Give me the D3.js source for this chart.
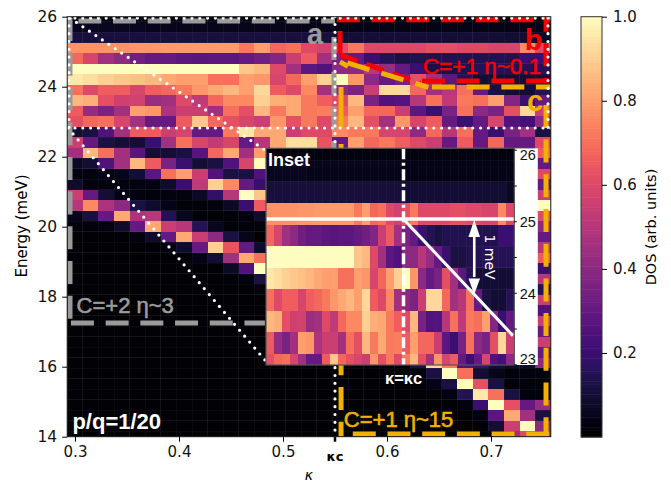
<!DOCTYPE html>
<html>
<head>
<meta charset="utf-8">
<script src="https://cdn.jsdelivr.net/npm/d3@7"></script>
<style>
  body { margin: 0; background: #fff; }
  text { font-family: "DejaVu Sans", sans-serif; }
</style>
</head>
<body>
<div id="chart"></div>
<script>
// kappa of each column centre
const kappas = [0.3, 0.315, 0.33, 0.345, 0.36, 0.375, 0.39, 0.405, 0.42, 0.435, 0.45, 0.465, 0.48, 0.495, 0.51, 0.525,
    0.54, 0.555, 0.57, 0.585, 0.6, 0.615, 0.63, 0.645, 0.66, 0.675, 0.69, 0.705, 0.72, 0.735, 0.75];

// energy of each row centre (meV)
const energies = [26, 25.7, 25.4, 25.1, 24.8, 24.5, 24.2, 23.9, 23.6, 23.3, 23, 22.7, 22.4, 22.1, 21.8, 21.5, 21.2, 20.9,
    20.6, 20.3, 20, 19.7, 19.4, 19.1, 18.8, 18.5, 18.2, 17.9, 17.6, 17.3, 17, 16.7, 16.4, 16.1, 15.8, 15.5, 15.2, 14.9, 14.6, 14.3, 14];

// DOS, one row per energy. The zeros sit behind the inset.
const dos = [
    [.03,.03,.03,.03,.03,.03,.03,.03,.03,.03,.03,.03,.03,.03,.03,.03,.03,.03,.03,.03,.03,.03,.03,.03,.03,.03,.03,.03,.03,.03,.03],
    [.06,.06,.06,.06,.06,.05,.05,.05,.05,.05,.05,.05,.05,.05,.05,.05,.05,.04,.04,.04,.04,.04,.04,.04,.04,.04,.04,.04,.04,.04,.04],
    [.11,.11,.11,.11,.11,.11,.11,.11,.11,.11,.11,.11,.11,.11,.11,.11,.11,.1,.1,.1,.1,.1,.1,.1,.1,.1,.1,.1,.09,.09,.07],
    [.77,.77,.77,.77,.78,.78,.79,.79,.79,.79,.79,.72,.8,.68,.7,.6,.57,.62,.72,.6,.6,.6,.6,.62,.62,.6,.6,.58,.58,.75,.6],
    [.68,.58,.45,.4,.33,.3,.3,.28,.27,.28,.28,.3,.33,.38,.55,.65,.45,.35,.3,.2,.15,.12,.14,.14,.14,.14,.14,.14,.14,.2,.2],
    [1,1,1,1,1,1,1,1,1,1,1,.88,.85,.6,.45,.28,.25,.4,.4,.5,.42,.3,.2,.12,.12,.14,.15,.15,.15,.15,.15],
    [.95,.93,.9,.88,.87,.85,.82,.8,.8,.7,.7,.8,.78,.58,.68,.8,.9,1,.78,.4,.3,.35,.62,.45,.28,.15,.1,.1,.1,.1,.1],
    [.7,.6,.66,.66,.58,.66,.68,.72,.78,.82,.85,.8,.92,.65,.6,.75,.45,.4,.36,.55,.92,.92,.68,.45,.5,.7,.3,.12,.1,.1,.15],
    [.85,.83,.62,.56,.57,.43,.45,.6,.52,.68,.75,.75,.9,.83,.82,.72,.66,.6,.85,.35,.25,.26,.5,.7,.52,.72,.7,.8,.38,.2,.3],
    [.65,.42,.35,.45,.8,.78,.48,.55,.55,.45,.7,.62,.85,.72,.82,.72,.73,.65,.8,.68,.68,.55,.28,.2,.35,.7,.4,.35,.62,.92,.55],
    [.62,.68,.7,.58,.45,.3,.3,.65,.88,.68,.62,.58,.55,.78,.62,.72,.6,.72,.85,.62,.45,.78,.58,.65,.3,.2,.3,.58,.25,.22,.4],
    [.1,.12,.25,.45,.65,.65,.55,.58,.3,.3,.72,.95,.82,.82,.55,.6,.6,.75,.72,.72,.58,.58,.4,.68,.5,.7,.3,.2,.35,.45,.12],
    [.55,.3,.12,.1,.1,.2,.45,.7,.58,.53,.58,.3,.5,.82,.93,.93,.63,.3,.8,.68,.72,.66,.6,.55,.3,.65,.3,.68,.3,.3,.6],
    [.45,.85,.7,.45,.27,.1,.1,.12,.27,.68,.82,.45,.8,0,0,0,0,0,0,0,0,0,0,0,0,0,0,0,0,0,.65],
    [.07,.1,.25,.45,.85,.65,.35,.2,.1,.12,.25,.58,1,0,0,0,0,0,0,0,0,0,0,0,0,0,0,0,0,0,.3],
    [.03,.03,.04,.05,.1,.28,.7,.8,.55,.25,.12,.12,.25,0,0,0,0,0,0,0,0,0,0,0,0,0,0,0,0,0,.6],
    [.08,.03,.03,.03,.03,.03,.08,.2,.52,.9,.75,.3,.2,0,0,0,0,0,0,0,0,0,0,0,0,0,0,0,0,0,.3],
    [.55,.3,.1,.04,.03,.02,.03,.03,.07,.18,.5,1,.88,0,0,0,0,0,0,0,0,0,0,0,0,0,0,0,0,0,.55],
    [.5,.75,.48,.4,.12,.08,.04,.02,.02,.03,.07,.2,.65,0,0,0,0,0,0,0,0,0,0,0,0,0,0,0,0,0,1],
    [.05,.12,.3,.82,.48,.5,.15,.06,.02,.01,.02,.03,.08,0,0,0,0,0,0,0,0,0,0,0,0,0,0,0,0,0,.6],
    [.02,.02,.03,.08,.3,.82,.55,.5,.15,.06,.02,.02,.02,0,0,0,0,0,0,0,0,0,0,0,0,0,0,0,0,0,.4],
    [.01,.01,.01,.01,.03,.08,.3,.82,.55,.4,.12,.05,.01,0,0,0,0,0,0,0,0,0,0,0,0,0,0,0,0,0,.3],
    [.01,.01,.01,.01,.01,.01,.03,.08,.3,.9,.63,.3,.08,0,0,0,0,0,0,0,0,0,0,0,0,0,0,0,0,0,.5],
    [.01,.01,.01,.01,.01,.01,.01,.01,.04,.1,.45,.82,.7,0,0,0,0,0,0,0,0,0,0,0,0,0,0,0,0,0,.65],
    [.01,.01,.01,.01,.01,.01,.01,.01,.01,.01,.07,.25,1,0,0,0,0,0,0,0,0,0,0,0,0,0,0,0,0,0,.2],
    [.01,.01,.01,.01,.01,.01,.01,.01,.01,.01,.02,.03,.12,0,0,0,0,0,0,0,0,0,0,0,0,0,0,0,0,0,.5],
    [.01,.01,.01,.01,.01,.01,.01,.01,.01,.01,.01,.01,.03,0,0,0,0,0,0,0,0,0,0,0,0,0,0,0,0,0,.15],
    [.01,.01,.01,.01,.01,.01,.01,.01,.01,.01,.01,.01,.01,0,0,0,0,0,0,0,0,0,0,0,0,0,0,0,0,0,.55],
    [.01,.01,.01,.01,.01,.01,.01,.01,.01,.01,.01,.01,.01,0,0,0,0,0,0,0,0,0,0,0,0,0,0,0,0,0,.25],
    [.01,.01,.01,.01,.01,.01,.01,.01,.01,.01,.01,.01,.01,0,0,0,0,0,0,0,0,0,0,0,0,0,0,0,0,0,.55],
    [.01,.01,.01,.01,.01,.01,.01,.01,.01,.01,.01,.01,.01,0,0,0,0,0,0,0,0,0,0,0,0,0,0,0,0,0,.3],
    [.01,.01,.01,.01,.01,.01,.01,.01,.01,.01,.01,.01,.01,0,0,0,0,0,0,0,0,0,0,0,0,0,0,0,0,0,.55],
    [.01,.01,.01,.01,.01,.01,.01,.01,.01,.01,.01,.01,.01,0,0,0,0,0,0,0,0,0,0,0,0,0,0,0,0,0,.3],
    [.01,.01,.01,.01,.01,.01,.01,.01,.01,.01,.01,.01,.01,.01,.01,.01,.01,.01,.01,.01,.01,.02,.12,.92,.72,.25,.2,.1,.08,.08,.4],
    [.01,.01,.01,.01,.01,.01,.01,.01,.01,.01,.01,.01,.01,.01,.01,.01,.01,.01,.01,.01,.01,.01,.03,.12,1,.7,.1,.05,.02,.03,.03],
    [.01,.01,.01,.01,.01,.01,.01,.01,.01,.01,.01,.01,.01,.01,.01,.01,.01,.01,.01,.01,.01,.01,.01,.04,.12,1,.62,.12,.02,.02,.02],
    [.01,.01,.01,.01,.01,.01,.01,.01,.01,.01,.01,.01,.01,.01,.01,.01,.01,.01,.01,.01,.01,.01,.01,.01,.03,.15,.95,.7,.12,.03,.02],
    [.01,.01,.01,.01,.01,.01,.01,.01,.01,.01,.01,.01,.01,.01,.01,.01,.01,.01,.01,.01,.01,.01,.01,.01,.01,.03,.2,1,.62,.3,.42],
    [.01,.01,.01,.01,.01,.01,.01,.01,.01,.01,.01,.01,.01,.01,.01,.01,.01,.01,.01,.01,.01,.01,.01,.01,.01,.01,.03,.28,.82,.45,.12],
    [.01,.01,.01,.01,.01,.01,.01,.01,.01,.01,.01,.01,.01,.01,.01,.01,.01,.01,.01,.01,.01,.01,.01,.01,.01,.01,.01,.1,.55,1,.4],
    [.01,.01,.01,.01,.01,.01,.01,.01,.01,.01,.01,.01,.01,.01,.01,.01,.01,.01,.01,.01,.01,.01,.01,.01,.01,.01,.01,.02,.45,.6,.35]
];

const xTicks = [0.3, 0.4, 0.5, 0.6, 0.7];
const yTicks = [14, 16, 18, 20, 22, 24, 26];
const barTicks = [0.2, 0.4, 0.6, 0.8, 1.0];
const insetTicks = [23, 23.5, 24, 24.5, 25, 25.5, 26];
const kappaC = 0.55;

// region outlines, in [kappa, energy]
const grayDashes = [
    [[0.3032, 25.88], [0.55, 25.88]],
    [[0.2952, 25.96], [0.2952, 17.25]],
    [[0.2961, 17.25], [0.4826, 17.25]],
    [[0.549, 25.42], [0.549, 17.25]]
];
const redDashes = [
    [[0.5518, 25.91], [0.7575, 25.91]],
    [[0.7529, 26.23], [0.7529, 24.16]],
    [[0.5548, 25.59], [0.5548, 24.91]],
    [[0.6336, 24.16], [0.7575, 24.16]]
];
const redSlope = [[0.5548, 24.91], [0.6317, 24.1]];
const goldDashes = [
    [[0.5558, 23.99], [0.5558, 22.82]],
    [[0.5558, 22.36], [0.5558, 14]],
    [[0.5671, 14.08], [0.7575, 14.08]],
    [[0.7529, 23.48], [0.7529, 14.08]],
    [[0.6432, 23.99], [0.7575, 23.99]]
];
const goldSlope = [[0.5619, 24.68], [0.6398, 23.98]];
const goldStub = [[0.5548, 24.71], [0.5625, 24.58]];
const dotted = [
    [[0.2925, 25.96], [0.7575, 25.96]],
    [[0.2942, 25.96], [0.2942, 22.82]],
    [[0.7548, 25.96], [0.7548, 22.82]],
    [[0.2925, 22.82], [0.7575, 22.82]],
    [[0.55, 26], [0.55, 14]],
    [[0.2952, 25.96], [0.4826, 22.19]],
    [[0.2933, 22.82], [0.4826, 16.19]]
];

const width = 671, height = 482;
const svg = d3.select("#chart").append("svg")
    .attr("width", width)
    .attr("height", height)
    .style("display", "block");

const x = d3.scaleLinear().domain([0.2925, 0.7575]).range([67.2, 550.8]);
const y = d3.scaleLinear().domain([14, 26]).range([436.7, 16.7]);
const color = d3.scaleSequential(d3.interpolateMagma).domain([0, 1]);

svg.append("clipPath").attr("id", "main-clip").append("rect")
    .attr("x", x.range()[0]).attr("y", y.range()[1])
    .attr("width", x.range()[1] - x.range()[0]).attr("height", y.range()[0] - y.range()[1]);

function drawCells(g, xs, ys, rows) {
    g.append("rect")
        .attr("x", xs.range()[0]).attr("y", ys.range()[1])
        .attr("width", xs.range()[1] - xs.range()[0]).attr("height", ys.range()[0] - ys.range()[1])
        .attr("fill", "#000");
    rows.forEach(function (e) {
        let row = dos[energies.indexOf(e)];
        g.append("g").selectAll("rect")
            .data(row)
            .enter()
            .append("rect")
            .attr("x", function (d, i) { return xs(kappas[i] - 0.0075); })
            .attr("y", ys(e + 0.15))
            .attr("width", xs(0.3075) - xs(0.2925))
            .attr("height", ys(e - 0.15) - ys(e + 0.15))
            .attr("fill", function (d) { return color(d); })
            .attr("shape-rendering", "crispEdges")
            // faint cell seams only show up on the dark cells
            .attr("stroke", function (d) { return d < 0.2 ? "#fff" : "none"; })
            .attr("stroke-opacity", 0.05)
            .attr("stroke-width", 0.8);
    });
}

let main = svg.append("g").attr("clip-path", "url(#main-clip)");
drawCells(main, x, y, energies);

let line = d3.line().x(function (d) { return x(d[0]); }).y(function (d) { return y(d[1]); });

function drawLines(list, col, dash) {
    main.selectAll(null)
        .data(list)
        .enter()
        .append("path")
        .attr("d", line)
        .attr("fill", "none")
        .attr("stroke", col)
        .attr("stroke-width", 5)
        .attr("stroke-dasharray", dash);
}
drawLines(grayDashes, "#9b9b9b", "23,11.7");
drawLines(redDashes, "#f40000", "23,11.7");
drawLines([redSlope], "#f40000", "18.5,9.5");
drawLines(goldDashes.slice(1), "#f2b000", "23,11.7");
drawLines([goldDashes[0], goldStub], "#f2b000", null);
drawLines([goldSlope], "#f2b000", "23,12.5");

main.selectAll(null)
    .data(dotted)
    .enter()
    .append("path")
    .attr("d", line)
    .attr("fill", "none")
    .attr("stroke", "#fff")
    .attr("stroke-width", 3.2)
    .attr("stroke-linecap", "round")
    .attr("stroke-dasharray", "0,7.8");

// frame and axes
svg.append("rect")
    .attr("x", x.range()[0]).attr("y", y.range()[1])
    .attr("width", x.range()[1] - x.range()[0]).attr("height", y.range()[0] - y.range()[1])
    .attr("fill", "none").attr("stroke", "#222");

let xAxis = svg.append("g")
    .attr("transform", "translate(0," + y.range()[0] + ")")
    .call(d3.axisBottom(x).tickValues(xTicks).tickFormat(d3.format(".1f")).tickSize(5).tickPadding(5));
xAxis.select(".domain").remove();
xAxis.selectAll("text").style("font-size", "15px").style("fill", "#111");

// kappa_c gets its own heavy tick
svg.append("line")
    .attr("x1", x(kappaC)).attr("x2", x(kappaC))
    .attr("y1", y.range()[0]).attr("y2", y.range()[0] + 5)
    .attr("stroke", "#000").attr("stroke-width", 2.5);
svg.append("text")
    .attr("x", x(kappaC)).attr("y", y.range()[0] + 24)
    .attr("text-anchor", "middle")
    .style("font-size", "13px").style("font-weight", "bold")
    .text("κc");

let yAxis = svg.append("g")
    .attr("transform", "translate(" + x.range()[0] + ",0)")
    .call(d3.axisLeft(y).tickValues(yTicks).tickSize(5).tickPadding(5));
yAxis.select(".domain").remove();
yAxis.selectAll("text").style("font-size", "15.5px").style("fill", "#111");

svg.append("text")
    .attr("transform", "translate(27,226)rotate(-90)")
    .attr("text-anchor", "middle")
    .style("font-size", "15px")
    .text("Energy (meV)");
svg.append("text")
    .attr("x", 309).attr("y", 480)
    .attr("text-anchor", "middle")
    .style("font-size", "14px").style("font-style", "italic")
    .text("κ");

// colour bar
const barY = d3.scaleLinear().domain([0, 1]).range([437, 16.7]);
svg.append("g").selectAll("rect")
    .data(d3.range(0, 1, 1 / 128))
    .enter()
    .append("rect")
    .attr("x", 581).attr("width", 21)
    .attr("y", function (d) { return barY(d + 1 / 128); })
    .attr("height", barY(0) - barY(1 / 128) + 0.5)
    .attr("fill", function (d) { return color(d); });
svg.append("rect")
    .attr("x", 581).attr("y", 16.7).attr("width", 21).attr("height", 420.3)
    .attr("fill", "none").attr("stroke", "#333");
let barAxis = svg.append("g")
    .attr("transform", "translate(602,0)")
    .call(d3.axisRight(barY).tickValues(barTicks).tickFormat(d3.format(".1f")).tickSize(5).tickPadding(6));
barAxis.select(".domain").remove();
barAxis.selectAll("text").style("font-size", "15px").style("fill", "#111");
svg.append("text")
    .attr("transform", "translate(656,227)rotate(-90)")
    .attr("text-anchor", "middle")
    .style("font-size", "14.5px")
    .text("DOS (arb. units)");

// notes on the main panel
function note(txt, px, py, col, size, weight, thick) {
    svg.append("text")
        .attr("x", px).attr("y", py)
        .attr("fill", col)
        .attr("stroke", thick ? col : "none")
        .attr("stroke-width", thick || 0)
        .style("font-family", "'Liberation Sans', Arial, sans-serif")
        .style("font-size", size + "px")
        .style("font-weight", weight || "normal")
        .text(txt);
}
note("a", x(0.5231), y(25.23), "#9b9b9b", 29, "bold");
note("b", x(0.7325), y(25.05), "#f40000", 29, "bold");
note("c", x(0.7345), y(23.32), "#f2b000", 29, "bold");
note("C=+1 η~0.1", x(0.6345), y(24.36), "#f40000", 22.5, "normal", 0.6);
note("C=+2 η~3", x(0.3015), y(17.53), "#9b9b9b", 22, "normal", 0.6);
note("C=+1 η~15", x(0.5585), y(14.28), "#f2b000", 22, "normal", 0.6);
note("p/q=1/20", x(0.2975), y(14.22), "#fff", 22, "bold");

// inset: same grid, squeezed in kappa and stretched in energy
const xIn = d3.scaleLinear().domain([0.2925, 0.7575]).range([266, 514.3]);
const yIn = d3.scaleLinear().domain([22.99, 26.02]).range([365, 148.3]);

svg.append("rect")
    .attr("x", 514.3).attr("y", 148.3).attr("width", 23.5).attr("height", 216.7)
    .attr("fill", "#fff");
svg.append("clipPath").attr("id", "inset-clip").append("rect")
    .attr("x", xIn.range()[0]).attr("y", yIn.range()[1])
    .attr("width", xIn.range()[1] - xIn.range()[0]).attr("height", yIn.range()[0] - yIn.range()[1]);
let inset = svg.append("g").attr("clip-path", "url(#inset-clip)");
drawCells(inset, xIn, yIn, energies.filter(function (e) { return e > 22.8; }));

let lineIn = d3.line().x(function (d) { return xIn(d[0]); }).y(function (d) { return yIn(d[1]); });
inset.append("path")
    .attr("d", lineIn([[0.2925, 25.03], [0.7575, 25.03]]))
    .attr("stroke", "#fff").attr("stroke-width", 3.5);
inset.append("path")
    .attr("d", lineIn([[kappaC, 25.03], [0.755, 23.4]]))
    .attr("stroke", "#fff").attr("stroke-width", 3);
inset.append("path")
    .attr("d", lineIn([[kappaC, 26.02], [kappaC, 22.99]]))
    .attr("stroke", "#fff").attr("stroke-width", 3.5)
    .attr("stroke-dasharray", "11,3.5,3,3.5");

// 1 meV arrow
const arrowK = 0.6825;
inset.append("path")
    .attr("d", lineIn([[arrowK, 24.8], [arrowK, 24.22]]))
    .attr("stroke", "#fff").attr("stroke-width", 2.6);
inset.selectAll(null)
    .data([[25.02, 24.78], [23.98, 24.2]])
    .enter()
    .append("path")
    .attr("d", function (d) {
        return "M" + xIn(arrowK) + "," + yIn(d[0]) + "L" + (xIn(arrowK) - 5.8) + "," + yIn(d[1]) +
            "L" + (xIn(arrowK) + 5.8) + "," + yIn(d[1]) + "Z";
    })
    .attr("fill", "#fff");
svg.append("text")
    .attr("transform", "translate(" + (xIn(arrowK) + 11) + "," + yIn(24.5) + ")rotate(90)")
    .attr("text-anchor", "middle")
    .attr("fill", "#fff")
    .style("font-size", "14px")
    .text("1 meV");

svg.append("rect")
    .attr("x", 266).attr("y", 148.3).attr("width", 248.3).attr("height", 216.7)
    .attr("fill", "none").attr("stroke", "#555").attr("stroke-width", 1.2);

let insetAxis = svg.append("g")
    .attr("transform", "translate(514.3,0)")
    .call(d3.axisRight(yIn).tickValues(insetTicks)
        .tickFormat(function (d) { return Number.isInteger(d) ? d : ""; })
        .tickSize(2.5).tickPadding(3));
insetAxis.select(".domain").remove();
insetAxis.selectAll("text")
    .style("font-family", "'Liberation Sans', Arial, sans-serif")
    .style("font-size", "14.5px")
    .style("fill", "#111")
    .attr("dy", function (d) { return d === 26 ? "0.7em" : d === 23 ? "-0.05em" : "0.36em"; });

note("Inset", 268, 166, "#fff", 18, "bold");
note("κ=κc", 385, 384, "#fff", 16.5, "bold");
</script>
</body>
</html>
